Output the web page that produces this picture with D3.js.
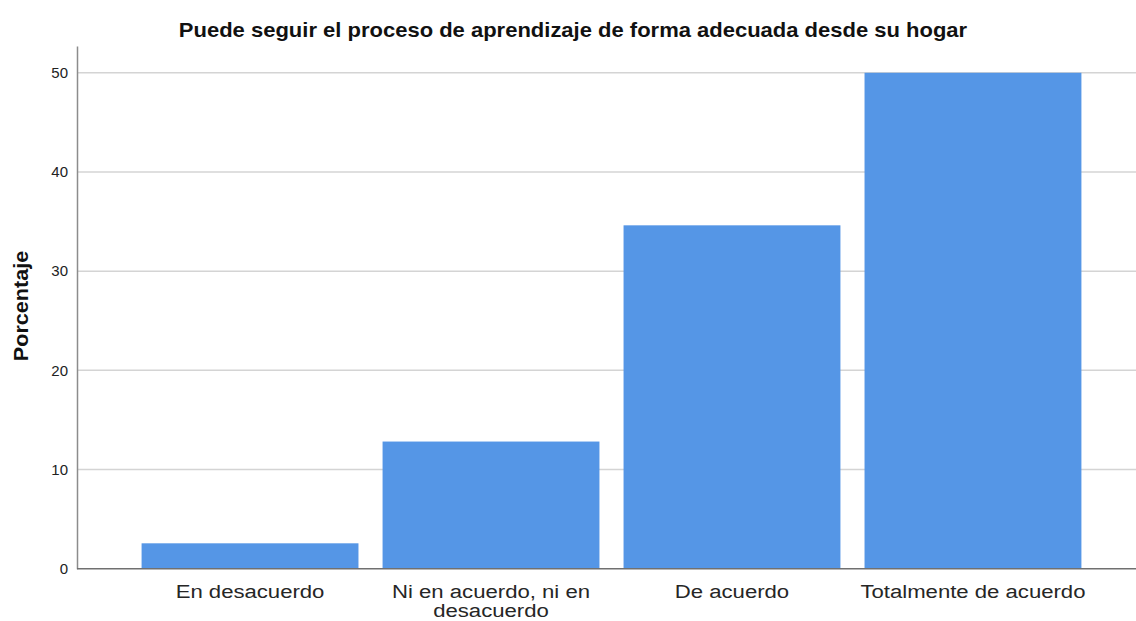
<!DOCTYPE html>
<html>
<head>
<meta charset="utf-8">
<script src="https://cdn.jsdelivr.net/npm/d3@7"></script>
<style>
  body { margin: 0; background: #fff; }
  text { font-family: "Liberation Sans", Arial, sans-serif; }
</style>
</head>
<body>
<script>
// respuestas (n = 78), porcentaje
categories = ["En desacuerdo", "Ni en acuerdo, ni en desacuerdo", "De acuerdo", "Totalmente de acuerdo"];
labelLines = [["En desacuerdo"], ["Ni en acuerdo, ni en", "desacuerdo"], ["De acuerdo"], ["Totalmente de acuerdo"]];
percent = [2.56, 12.82, 34.62, 50.0];
yTicks = [0, 10, 20, 30, 40, 50];

let W = 1136, H = 621;
let svg = d3.select("body").append("svg")
  .attr("width", W)
  .attr("height", H);

let plotLeft = 77, plotRight = 1146, plotTop = 46, plotBottom = 568.7;

let xScale = d3.scaleBand()
  .domain(categories)
  .range([plotLeft, plotRight])
  .paddingInner(0.1)
  .paddingOuter(0.268);

let yScale = d3.scaleLinear()
  .domain([0, 52.7])
  .range([plotBottom, plotTop]);

// grid lines
svg.append("g")
  .selectAll("line")
  .data(yTicks.slice(1)).enter().append("line")
    .attr("x1", plotLeft)
    .attr("x2", W)
    .attr("y1", d => yScale(d))
    .attr("y2", d => yScale(d))
    .attr("stroke", "#d4d4d4")
    .attr("stroke-width", 1.5);

// bars
svg.append("g")
  .selectAll("rect")
  .data(percent).enter().append("rect")
    .attr("x", (d, i) => xScale(categories[i]))
    .attr("y", d => yScale(d))
    .attr("width", xScale.bandwidth())
    .attr("height", d => yScale(0) - yScale(d))
    .attr("fill", "#5596e6");

// y axis
let yAxis = d3.axisLeft(yScale).tickValues(yTicks).tickSize(0).tickPadding(9);
let gy = svg.append("g")
  .attr("transform", "translate(" + plotLeft + ",0)")
  .call(yAxis);
gy.select(".domain").attr("stroke", "#8c8c8c").attr("stroke-width", 1.5);
gy.selectAll("text").attr("font-size", 15).attr("fill", "#222")
  .attr("font-family", "Liberation Sans, Arial, sans-serif");

// x axis
let xAxis = d3.axisBottom(xScale).tickSize(0).tickFormat("");
let gx = svg.append("g")
  .attr("transform", "translate(0," + plotBottom + ")")
  .call(xAxis);
gx.select(".domain").attr("d", "M" + plotLeft + ",0H" + W).attr("stroke", "#707070").attr("stroke-width", 1.5);

// category labels
svg.append("g")
  .selectAll("text")
  .data(categories).enter().append("text")
    .attr("transform", d => "translate(" + (xScale(d) + xScale.bandwidth() / 2) + "," + (plotBottom + 29) + ") scale(1.23,1)")
    .attr("text-anchor", "middle")
    .attr("font-size", 18)
    .attr("fill", "#262626")
    .selectAll("tspan")
    .data((d, i) => labelLines[i]).enter().append("tspan")
      .attr("x", 0)
      .attr("dy", (d, j) => j == 0 ? 0 : 19)
      .text(d => d);

// title
svg.append("text")
  .attr("transform", "translate(573,37) scale(1.1,1)")
  .attr("text-anchor", "middle")
  .attr("font-size", 20)
  .attr("font-weight", "bold")
  .attr("fill", "#111")
  .text("Puede seguir el proceso de aprendizaje de forma adecuada desde su hogar");

// y label
svg.append("text")
  .attr("transform", "translate(28,306) rotate(-90) scale(1.08,1)")
  .attr("text-anchor", "middle")
  .attr("font-size", 20)
  .attr("font-weight", "bold")
  .attr("fill", "#111")
  .text("Porcentaje");
</script>
</body>
</html>
